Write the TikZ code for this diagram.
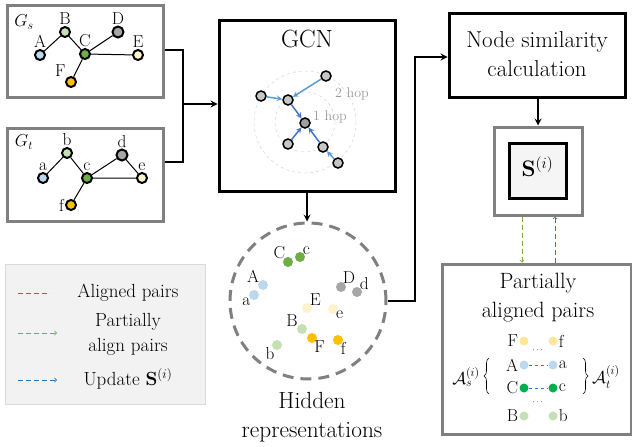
\documentclass[tikz,border=0pt]{standalone}
\usepackage{amsmath}
\usepackage{amssymb}
\usepackage{graphicx}
\usepackage{tikz}
\usetikzlibrary{arrows,positioning,decorations.pathreplacing}

\definecolor{nblue}{HTML}{BDD7EE}
\definecolor{ngreen}{HTML}{70AD47}
\definecolor{nlgreen}{HTML}{C5E0B4}
\definecolor{ngray}{HTML}{A6A6A6}
\definecolor{ncream}{HTML}{FFF2CC}
\definecolor{norange}{HTML}{FFC000}
\definecolor{nyellow}{HTML}{FFE699}
\definecolor{ndgreen}{HTML}{00B050}
\definecolor{boxgray}{HTML}{808080}
\definecolor{hopblue}{HTML}{5B9BD5}
\definecolor{hopdark}{HTML}{4472C4}
\definecolor{updblue}{HTML}{2E75B6}
\definecolor{legfill}{HTML}{F2F2F2}

\newcommand{\fbase}{\fontsize{17.28}{20}\selectfont}
% scaled text: factor, line skip, lines
\newcommand{\sctext}[3]{\scalebox{#1}{\fontsize{17.28}{#2}\selectfont\begin{tabular}{@{}c@{}}#3\end{tabular}}}

\begin{document}
\begin{tikzpicture}[x=1pt,y=-1pt,>=stealth,
    gnode/.style={circle,draw,line width=2pt,minimum size=10pt,inner sep=0pt},
    cnode/.style={circle,draw,line width=1.5pt,fill=gray!45,minimum size=10pt,inner sep=0pt},
    hnode/.style={circle,minimum size=10pt,inner sep=0pt},
    pnode/.style={circle,minimum size=9pt,inner sep=0pt},
    lbl/.style={font=\fbase,inner sep=1pt},
    txt/.style={inner sep=0pt},
    graybox/.style={draw=boxgray,line width=3pt},
    blackbox/.style={draw,line width=3pt},
    link/.style={line width=2pt},
    edge/.style={line width=1pt},
    hop/.style={line width=1.5pt},
    curly/.style={decorate,decoration={brace,amplitude=5pt},line width=0.6pt}]

\useasboundingbox (0,0) rectangle (632,447);

% input graphs
\node[graybox,minimum width=156,minimum height=92] (gs) at (85,51) {};
\node[graybox,minimum width=156,minimum height=93] (gt) at (85,174.5) {};
\node[lbl] (gsname) at (24,22) {$G_s$};
\node[lbl] (gtname) at (24,142) {$G_t$};

\node[gnode,fill=nblue,label={[lbl]above:A}] (A) at (40,55) {};
\node[gnode,fill=nlgreen,label={[lbl]above:B}] (B) at (65,32) {};
\node[gnode,fill=ngreen,label={[lbl]above:C}] (C) at (85,54) {};
\node[gnode,fill=ngray,minimum size=11pt,label={[lbl]above:D}] (D) at (118,32) {};
\node[gnode,fill=ncream,label={[lbl]above:E}] (E) at (138,55) {};
\node[gnode,fill=norange,label={[lbl]above left:F}] (F) at (71,82) {};
\draw[edge] (A) -- (B) -- (C) -- (D);
\draw[edge] (C) -- (E);
\draw[edge] (C) -- (F);

\node[gnode,fill=nblue,label={[lbl]above:a}] (a) at (43,178) {};
\node[gnode,fill=nlgreen,label={[lbl]above:b}] (b) at (67,153) {};
\node[gnode,fill=ngreen,label={[lbl]above:c}] (c) at (87,178) {};
\node[gnode,fill=ngray,minimum size=11pt,label={[lbl]above:d}] (d) at (122,155) {};
\node[gnode,fill=ncream,label={[lbl]above:e}] (e) at (142,178) {};
\node[gnode,fill=norange,label={[lbl]left:f}] (f) at (71,205) {};
\draw[edge] (a) -- (b) -- (c) -- (d) -- (e) -- (c);
\draw[edge] (c) -- (f);

% GCN
\node[blackbox,minimum width=176,minimum height=171] (gcn) at (307,105.5) {};
\node[txt] (gcntitle) at (307,42) {\sctext{1.44}{20}{GCN}};
\draw[gray!40,dashed,thin] (305,122) circle (51) (305,122) circle (30);
\node[gray!80,font=\fontsize{14}{16}\selectfont] (hop2) at (352,94) {2 hop};
\node[gray!80,font=\fontsize{14}{16}\selectfont] (hop1) at (330,117) {1 hop};
\node[cnode,fill=gray!75] (g0) at (305,123) {};
\node[cnode] (g1) at (326,76) {};
\node[cnode] (g2) at (261,96) {};
\node[cnode] (g3) at (288,100) {};
\node[cnode] (g4) at (288,144) {};
\node[cnode] (g5) at (323,147) {};
\node[cnode] (g6) at (338,163) {};
\draw[hop,hopblue,->] (g1) -- (g3);
\draw[hop,hopblue,->] (g2) -- (g3);
\draw[hop,hopdark,->] (g3) -- (g0);
\draw[hop,hopdark,->] (g4) -- (g0);
\draw[hop,hopdark,->] (g5) -- (g0);
\draw[hop,hopblue,->] (g6) -- (g5);

\coordinate (join) at (183,104);
\draw[link] ([yshift=1pt]gs.east) -| (join);
\draw[link] ([yshift=12.5pt]gt.east) -| (join);
\draw[link,->] (join) -- (gcn.west |- join);

% hidden representations
\node[circle,draw=gray,dashed,line width=3pt,dash pattern=on 11pt off 7pt,minimum size=156pt] (hid) at (308,301) {};
\draw[link,->] (gcn.south) -- (gcn.south |- hid.north);
\node[hnode,fill=ngreen,label={[lbl,label distance=-3pt]135:C}] (hC) at (288,262) {};
\node[hnode,fill=ngreen,label={[lbl,label distance=-3pt]45:c}] (hc) at (300,257) {};
\node[hnode,fill=nblue,label={[lbl,label distance=-2pt]150:A}] (hA) at (263,285) {};
\node[hnode,fill=nblue,label={[lbl,label distance=-2pt]220:a}] (ha) at (254,295) {};
\node[hnode,fill=ngray,label={[lbl,label distance=-3pt]70:D}] (hD) at (341,287) {};
\node[hnode,fill=ngray,label={[lbl,label distance=-3pt]40:d}] (hd) at (357,292) {};
\node[hnode,fill=ncream,label={[lbl,label distance=-3pt]45:E}] (hE) at (307,308) {};
\node[hnode,fill=ncream,label={[lbl,label distance=-3pt]-30:e}] (he) at (333,309) {};
\node[hnode,fill=nlgreen,label={[lbl,label distance=-2pt]160:B}] (hB) at (302,329) {};
\node[hnode,fill=norange,label={[lbl,label distance=-3pt]-60:F}] (hF) at (312,338) {};
\node[hnode,fill=norange,label={[lbl,label distance=-3pt]-40:f}] (hf) at (338,340) {};
\node[hnode,fill=nlgreen,label={[lbl,label distance=-3pt]-130:b}] (hb) at (277,345) {};
\node[txt] (hidtext) at (312,417) {\sctext{1.35}{22.2}{Hidden\\representations}};

% similarity
\node[blackbox,minimum width=176,minimum height=84] (sim) at (537,55) {};
\node[txt] (simtext) at (537,56) {\sctext{1.33}{22.5}{Node similarity\\calculation}};
\coordinate (bend) at (415,57);
\draw[link,->] (hid.east) -| (bend) -- (sim.west |- bend);
\node[graybox,minimum width=88,minimum height=88] (sout) at (538,171) {};
\node[blackbox,fill=gray!8,minimum width=57,minimum height=55] (smat) at (537.5,170.5) {};
\node[txt] (stext) at (smat) {\sctext{1.3}{20}{$\mathbf{S}^{(i)}$}};
\draw[link,->] (sim.south -| sout.north) -- (sout.north);

% partially aligned pairs
\node[graybox,minimum width=189,minimum height=170] (part) at (536.5,349) {};
\node[txt] (parttext) at (538,297) {\sctext{1.28}{23.4}{Partially\\aligned pairs}};
\draw[ngreen,thick,dash pattern=on 5pt off 3pt,-to] ([xshift=-16pt]sout.south) -- ([xshift=-16pt]sout.south |- part.north);
\draw[updblue,thick,dash pattern=on 5pt off 3pt,-to] ([xshift=17pt]sout.south |- part.north) -- ([xshift=17pt]sout.south);

\node[pnode,fill=nyellow,label={[lbl]left:F}] (pF) at (524,341) {};
\node[pnode,fill=nyellow,label={[lbl]right:f}] (pf) at (553,341) {};
\node[pnode,fill=nblue,label={[lbl]left:A}] (pA) at (524,365) {};
\node[pnode,fill=nblue,label={[lbl]right:a}] (pa) at (553,365) {};
\node[pnode,fill=ndgreen,label={[lbl]left:C}] (pC) at (524,388) {};
\node[pnode,fill=ndgreen,label={[lbl]right:c}] (pc) at (553,388) {};
\node[pnode,fill=nlgreen,label={[lbl]left:B}] (pB) at (524,416) {};
\node[pnode,fill=nlgreen,label={[lbl]right:b}] (pb) at (553,416) {};
\draw[hopdark,dashed,thin] (pA) -- (pa);
\draw[hopdark,dashed,thin] (pC) -- (pc);
\node[font=\fontsize{9}{9}\selectfont] (dots1) at (538.5,350) {$\cdots$};
\node[font=\fontsize{9}{9}\selectfont] (dots2) at (538.5,402) {$\cdots$};
\coordinate (lbrbot) at (489,394);
\coordinate (lbrtop) at (489,358);
\coordinate (rbrtop) at (583,358);
\coordinate (rbrbot) at (583,394);
\draw[curly] (lbrbot) -- (lbrtop);
\draw[curly] (rbrtop) -- (rbrbot);
\node[lbl,anchor=east] (aset) at (481,377) {$\mathcal{A}_s^{(i)}$};
\node[lbl,anchor=west] (atset) at (591,377) {$\mathcal{A}_t^{(i)}$};

% legend
\node[draw=gray!30,fill=legfill,minimum width=200,minimum height=140] (legend) at (105,334) {};
\coordinate (l1a) at (18,293);
\coordinate (l1b) at (50,293);
\coordinate (l2a) at (18,333);
\coordinate (l2b) at (57,333);
\coordinate (l3a) at (18,380);
\coordinate (l3b) at (57,380);
\draw[hopdark,dash pattern=on 5pt off 3pt] (l1a) -- (l1b);
\draw[ngreen,thick,dash pattern=on 5pt off 3pt,-to] (l2a) -- (l2b);
\draw[updblue,thick,dash pattern=on 5pt off 3pt,-to] (l3a) -- (l3b);
\node[txt] (leg1) at (128,293) {\sctext{1.1}{20}{Aligned pairs}};
\node[txt] (leg2) at (128,334) {\sctext{1.1}{22.7}{Partially\\align pairs}};
\node[txt] (leg3) at (128,380) {\sctext{1.1}{20}{Update $\mathbf{S}^{(i)}$}};
\end{tikzpicture}
\end{document}
